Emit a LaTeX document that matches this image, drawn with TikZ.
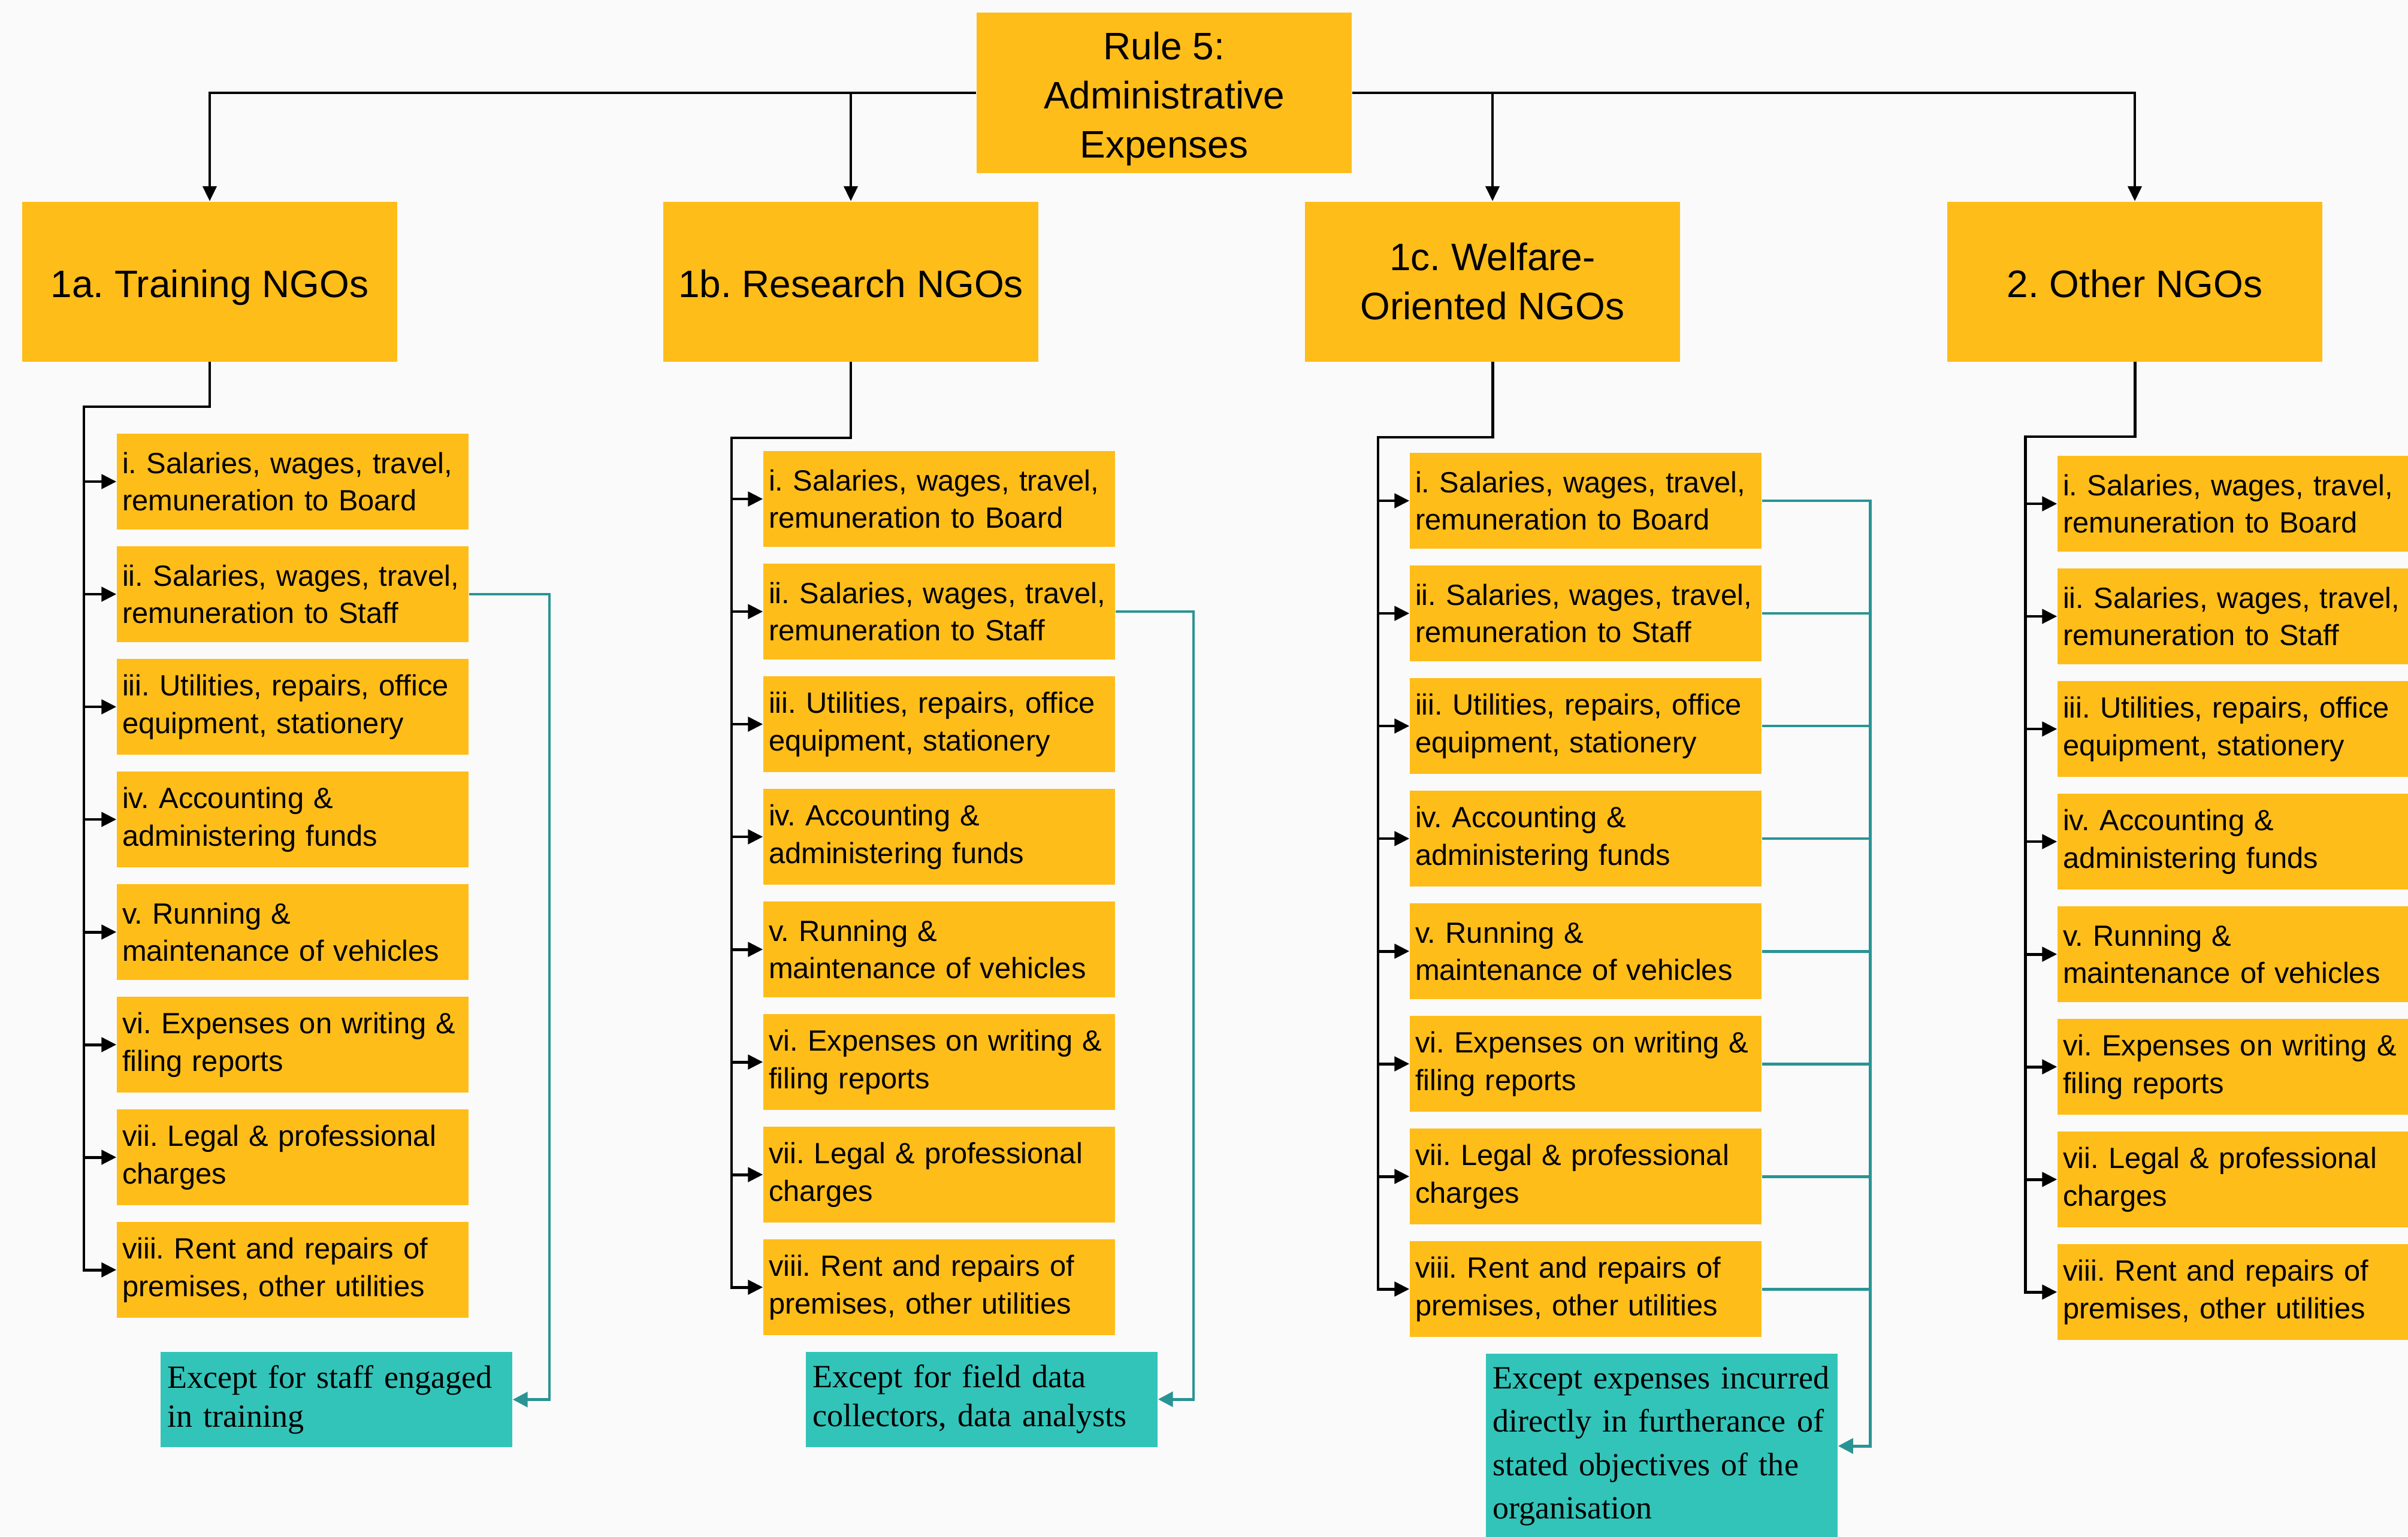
\documentclass[tikz,border=0pt]{standalone}
\usepackage{fontspec}
\setmainfont{Liberation Serif}
\setsansfont{Liberation Sans}
\usetikzlibrary{arrows.meta}
\definecolor{ngoyellow}{HTML}{FFBD1A}
\definecolor{noteteal}{HTML}{33C4B9}
\definecolor{lineteal}{HTML}{2A9494}
\definecolor{bggray}{HTML}{FAFAFA}
\begin{document}
\begin{tikzpicture}[
  head/.style={rectangle, fill=ngoyellow, minimum width=6.26cm, minimum height=2.67cm, align=center, font=\sffamily\frenchspacing\fontsize{18.2}{23.3}\selectfont},
  onehead/.style={head, text height=15pt, text depth=0pt},
  item/.style={rectangle, fill=ngoyellow, minimum height=1.6cm, text width=5.69cm, inner xsep=0.09cm, align=left, font=\sffamily\frenchspacing\fontsize{13.9}{17.9}\selectfont},
  note/.style={rectangle, fill=noteteal, minimum height=1.59cm, text width=5.65cm, inner xsep=0.11cm, align=left, font=\frenchspacing\fontsize{15.4}{18.5}\selectfont},
  toparr/.style={-{Triangle[length=0.25cm,width=0.23cm]}, line width=1.25pt},
  arr/.style={-{Triangle[length=0.25cm,width=0.24cm]}, line width=1.4pt},
  tline/.style={lineteal, line width=1.4pt},
  tarr/.style={tline, -{Triangle[length=0.25cm,width=0.25cm]}},
  node distance=1.88cm
]
\path[use as bounding box, fill=bggray] (0,0) rectangle (40.19,-25.65);

% top level
\node[head, minimum height=2.66cm] (root) at (19.43,-1.55) {\rule{0pt}{19pt}Rule 5:\\Administrative\\Expenses};
\node[onehead] (train) at (3.50,-4.70) {1a. Training NGOs};
\node[onehead] (research) at (14.20,-4.70) {1b. Research NGOs};
\node[head] (welfare) at (24.91,-4.70) {1c. Welfare-\\Oriented NGOs};
\node[onehead] (other) at (35.63,-4.70) {2. Other NGOs};

% 1a
\node[item] (tr1) at (4.885,-8.04) {i. Salaries, wages, travel,\\remuneration to Board};
\node[item, below of=tr1] (tr2) {ii. Salaries, wages, travel,\\remuneration to Staff};
\node[item, below of=tr2] (tr3) {iii. Utilities, repairs, office\\equipment, stationery};
\node[item, below of=tr3] (tr4) {iv. Accounting \&\\administering funds};
\node[item, below of=tr4] (tr5) {v. Running \&\\maintenance of vehicles};
\node[item, below of=tr5] (tr6) {vi. Expenses on writing \&\\filing reports};
\node[item, below of=tr6] (tr7) {vii. Legal \& professional\\charges};
\node[item, below of=tr7] (tr8) {viii. Rent and repairs of\\premises, other utilities};
\node[note] (extr) at (5.615,-23.365) {Except for staff engaged\\in training};

% 1b
\node[item] (rs1) at (15.675,-8.33) {i. Salaries, wages, travel,\\remuneration to Board};
\node[item, below of=rs1] (rs2) {ii. Salaries, wages, travel,\\remuneration to Staff};
\node[item, below of=rs2] (rs3) {iii. Utilities, repairs, office\\equipment, stationery};
\node[item, below of=rs3] (rs4) {iv. Accounting \&\\administering funds};
\node[item, below of=rs4] (rs5) {v. Running \&\\maintenance of vehicles};
\node[item, below of=rs5] (rs6) {vi. Expenses on writing \&\\filing reports};
\node[item, below of=rs6] (rs7) {vii. Legal \& professional\\charges};
\node[item, below of=rs7] (rs8) {viii. Rent and repairs of\\premises, other utilities};
\node[note] (exrs) at (16.385,-23.36) {Except for field data\\collectors, data analysts};

% 1c
\node[item] (wf1) at (26.465,-8.36) {i. Salaries, wages, travel,\\remuneration to Board};
\node[item, below of=wf1] (wf2) {ii. Salaries, wages, travel,\\remuneration to Staff};
\node[item, below of=wf2] (wf3) {iii. Utilities, repairs, office\\equipment, stationery};
\node[item, below of=wf3] (wf4) {iv. Accounting \&\\administering funds};
\node[item, below of=wf4] (wf5) {v. Running \&\\maintenance of vehicles};
\node[item, below of=wf5] (wf6) {vi. Expenses on writing \&\\filing reports};
\node[item, below of=wf6] (wf7) {vii. Legal \& professional\\charges};
\node[item, below of=wf7] (wf8) {viii. Rent and repairs of\\premises, other utilities};
\node[note, minimum height=3.08cm, font=\frenchspacing\fontsize{15.4}{20.5}\selectfont] (exwf) at (27.735,-24.14) {Except expenses incurred\\directly in furtherance of\\stated objectives of the\\organisation};

% 2
\node[item] (ot1) at (37.275,-8.41) {i. Salaries, wages, travel,\\remuneration to Board};
\node[item, below of=ot1] (ot2) {ii. Salaries, wages, travel,\\remuneration to Staff};
\node[item, below of=ot2] (ot3) {iii. Utilities, repairs, office\\equipment, stationery};
\node[item, below of=ot3] (ot4) {iv. Accounting \&\\administering funds};
\node[item, below of=ot4] (ot5) {v. Running \&\\maintenance of vehicles};
\node[item, below of=ot5] (ot6) {vi. Expenses on writing \&\\filing reports};
\node[item, below of=ot6] (ot7) {vii. Legal \& professional\\charges};
\node[item, below of=ot7] (ot8) {viii. Rent and repairs of\\premises, other utilities};

% root to groups
\draw[toparr] (root.west) -| (train.north);
\draw[toparr] (root.west) -| (research.north);
\draw[toparr] (root.east) -| (welfare.north);
\draw[toparr] (root.east) -| (other.north);

% trunks
\coordinate (trtop) at (1.40,-6.79);
\coordinate (rstop) at (12.21,-7.31);
\coordinate (wftop) at (23.00,-7.30);
\coordinate (ottop) at (33.80,-7.29);
\draw[arr] (train.south) |- (trtop) |- (tr8.west);
\draw[arr] (research.south) |- (rstop) |- (rs8.west);
\draw[arr] (welfare.south) |- (wftop) |- (wf8.west);
\draw[arr] (other.south) |- (ottop) |- (ot8.west);
\foreach \n in {1,...,7} {
  \draw[arr] (trtop |- tr\n.west) -- (tr\n.west);
  \draw[arr] (rstop |- rs\n.west) -- (rs\n.west);
  \draw[arr] (wftop |- wf\n.west) -- (wf\n.west);
  \draw[arr] (ottop |- ot\n.west) -- (ot\n.west);
}

% exceptions
\coordinate (trbus) at (9.17,0);
\coordinate (rsbus) at (19.92,0);
\coordinate (wfbus) at (31.21,0);
\draw[tarr] (tr2.east) -- (tr2.east -| trbus) |- (extr.east);
\draw[tarr] (rs2.east) -- (rs2.east -| rsbus) |- (exrs.east);
\foreach \n in {2,...,8}
  \draw[tline] (wf\n.east) -- (wf\n.east -| wfbus);
\draw[tarr] (wf1.east) -- (wf1.east -| wfbus) |- (exwf.east);
\end{tikzpicture}
\end{document}
